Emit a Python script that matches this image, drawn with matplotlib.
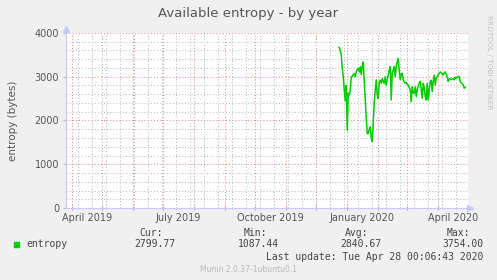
import matplotlib
matplotlib.use("Agg")
import matplotlib.pyplot as plt
import matplotlib.transforms as mtransforms
import pandas as pd

# ── Data (daily averages) ─────────────────────────────────────────────────────
START_DAY = "2019-12-24"
entropy = [
    3670, 3600, 3500, 3200, 3000, 2700, 2450, 2800, 1780, 2620,
    2580, 2700, 3000, 3000, 3050, 3070, 3000, 3110, 3170, 3190,
    3110, 3230, 3050, 3250, 3340, 2900, 2500, 2050, 1700, 1700,
    1800, 1850, 1600, 1520, 1950, 2400, 2700, 2930, 2580, 2500,
    2880, 2920, 2850, 2960, 2900, 2850, 3000, 2810, 2930, 3040,
    3150, 3230, 2470, 3100, 3150, 3230, 3000, 3230, 3350, 3420,
    3150, 2930, 3050, 3080, 2930, 2880, 2850, 2870, 2820, 2810,
    2750, 2700, 2430, 2770, 2650, 2620, 2770, 2550, 2700, 2780,
    2850, 2890, 2700, 2510, 2850, 2740, 2550, 2470, 2850, 2470,
    2700, 2890, 2920, 2660, 2900, 3040, 2810, 2960, 3000, 3050,
    3080, 3110, 3090, 3070, 3040, 3090, 3110, 3060, 3000, 2890,
    2940, 2960, 2930, 2950, 2960, 2930, 2990, 2970, 2990, 3000,
    3000, 2890, 2860, 2840, 2810, 2740, 2760,
]
days = pd.date_range(START_DAY, periods=len(entropy), freq="D")

x_range = ["2019-03-25 18:00", "2020-04-30 18:00"]
label_months = ["2019-04-16", "2019-07-16", "2019-10-16", "2020-01-16", "2020-04-16"]
label_text = ["April 2019", "July 2019", "October 2019", "January 2020", "April 2020"]
month_lines = pd.date_range("2019-04-01", "2020-04-30", freq="MS")
week_lines = pd.date_range("2019-04-07", "2020-04-30", freq="14D")

legend_cols = ["Cur:", "Min:", "Avg:", "Max:"]
legend_vals = ["2799.77", "1087.44", "2840.67", "3754.00"]

# ── Style ─────────────────────────────────────────────────────────────────────
BG = "#f0f0f0"
TXT = "#555555"
MONO = "#444444"
GREEN = "#00cc00"
RED_GRID = "#ee8f8f"
GREY_GRID = "#bdbdbd"
AXIS_BLUE = "#c8c8ff"
DOT = (0, (1, 2))

fig = plt.figure(figsize=(4.97, 2.80), dpi=100, facecolor=BG)
ax = fig.add_axes([66 / 497, 72 / 280, 402 / 497, 175 / 280])
ax.set_facecolor("white")

ax.set_xlim(pd.to_datetime(x_range[0]), pd.to_datetime(x_range[1]))
ax.set_ylim(0, 4000)

# grid
for d in week_lines:
    ax.axvline(d, color=GREY_GRID, lw=0.75, ls=DOT, zorder=1)
for v in range(0, 4001, 200):
    if v % 1000:
        ax.axhline(v, color=GREY_GRID, lw=0.75, ls=DOT, zorder=1)
for d in month_lines:
    ax.axvline(d, color=RED_GRID, lw=0.75, ls=DOT, zorder=2)
for v in range(1000, 4001, 1000):
    ax.axhline(v, color=RED_GRID, lw=0.75, ls=DOT, zorder=2)

ax.plot(days, entropy, color=GREEN, lw=1.1, zorder=5)

# axes / ticks
for s in ("top", "right"):
    ax.spines[s].set_visible(False)
for s in ("left", "bottom"):
    ax.spines[s].set_color(AXIS_BLUE)
    ax.spines[s].set_linewidth(0.8)
ax.plot([1.005], [0], marker=">", ms=4, color=AXIS_BLUE, transform=ax.transAxes,
        clip_on=False)
ax.plot([0], [1.025], marker="^", ms=4, color=AXIS_BLUE, transform=ax.transAxes,
        clip_on=False)

ax.set_yticks(range(0, 4001, 1000))
ax.tick_params(axis="y", length=2, color=GREY_GRID, labelsize=7, labelcolor=TXT, pad=3)
ax.set_xticks(month_lines)
ax.set_xticklabels([])
ax.set_xticks(week_lines, minor=True)
ax.tick_params(axis="x", which="major", length=3, color=RED_GRID, direction="inout")
ax.tick_params(axis="x", which="minor", length=2, color=GREY_GRID, direction="inout")

trans = mtransforms.blended_transform_factory(ax.transData, ax.transAxes)
for d, t in zip(label_months, label_text):
    ax.text(pd.to_datetime(d), -0.055, t, transform=trans, ha="center", va="center",
            fontsize=7, color=TXT)

ax.set_ylabel("entropy (bytes)", fontsize=7.5, color=TXT, labelpad=12)

# title and side text
fig.text(248 / 497, 1 - 13 / 280, "Available entropy - by year", ha="center",
         va="center", fontsize=9.5, color=TXT)
fig.text(489 / 497, 1 - 62 / 280, "RRDTOOL / TOBI OETIKER", rotation=270,
         ha="center", va="center", fontsize=5.3, color="#c0c0c0")

# legend block
fig.patches.append(plt.Rectangle((14 / 497, 1 - 247 / 280), 5 / 497, 5 / 280,
                                 transform=fig.transFigure, color=GREEN))
fig.text(26 / 497, 1 - 244 / 280, "entropy", family="DejaVu Sans Mono",
         fontsize=7, color=MONO, va="center")
head_x = [163, 267, 368, 470]
val_x = [175, 279, 381, 483]
for hx, vx, h, v in zip(head_x, val_x, legend_cols, legend_vals):
    fig.text(hx / 497, 1 - 233 / 280, h, family="DejaVu Sans Mono", fontsize=7,
             color=MONO, ha="right", va="center")
    fig.text(vx / 497, 1 - 244 / 280, v, family="DejaVu Sans Mono", fontsize=7,
             color=MONO, ha="right", va="center")
fig.text(483 / 497, 1 - 256.5 / 280, "Last update: Tue Apr 28 00:06:43 2020",
         family="DejaVu Sans Mono", fontsize=7, color=MONO, ha="right", va="center")
fig.text(248 / 497, 1 - 269 / 280, "Munin 2.0.37-1ubuntu0.1", ha="center",
         va="center", fontsize=5.5, color="#b8b8b8")

fig.savefig("out.png", dpi=100, facecolor=BG)
